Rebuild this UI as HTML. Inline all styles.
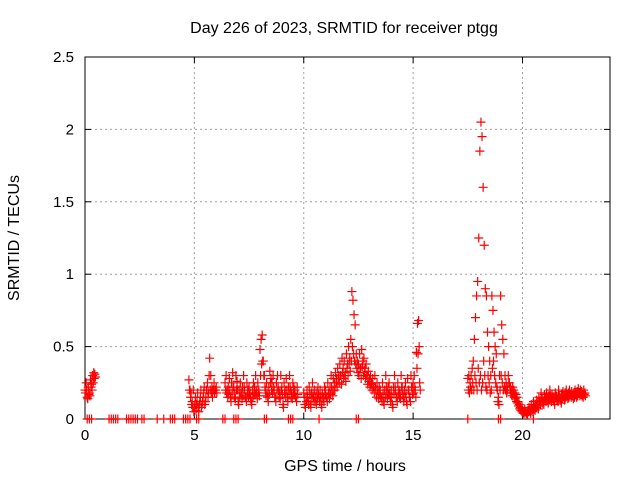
<!DOCTYPE html>
<html><head><meta charset="utf-8"><style>
body{margin:0;background:#fff}
svg{display:block;font-family:"Liberation Sans",sans-serif}
</style></head><body>
<svg id="chart" width="640" height="480"></svg>
<script>
const segStarts=[0.0,4.75,6.4,10.0,17.5,19.35];
const segStep=0.05;
const segValues=[
[0.2,0.25,0.15,0.22,0.18,0.27,0.24,0.3,0.32,0.31],
[0.27,0.2,0.18,0.12,0.2,0.08,0.15,0.1,0.18,0.05,0.12,0.2,0.1,0.15,0.22,0.12,0.2,0.25,0.18,0.42,0.3,0.22,0.2,0.25,0.2,0.22],
[0.25,0.3,0.2,0.22,0.28,0.15,0.25,0.32,0.22,0.18,0.3,0.26,0.12,0.2,0.25,0.18,0.22,0.3,0.2,0.15,0.25,0.2,0.22,0.18,0.12,0.2,0.25,0.22,0.3,0.18,0.25,0.2,0.48,0.55,0.58,0.4,0.3,0.2,0.25,0.15,0.22,0.33,0.28,0.25,0.3,0.2,0.15,0.25,0.3,0.2,0.18,0.3,0.22,0.1,0.25,0.2,0.28,0.15,0.22,0.3,0.2,0.18,0.25,0.22,0.2,0.15,0.22],
[0.18,0.1,0.15,0.2,0.12,0.22,0.1,0.18,0.25,0.15,0.2,0.12,0.18,0.22,0.15,0.2,0.1,0.18,0.15,0.22,0.2,0.15,0.25,0.18,0.22,0.3,0.2,0.28,0.25,0.32,0.28,0.35,0.3,0.38,0.3,0.42,0.35,0.4,0.32,0.45,0.38,0.5,0.42,0.55,0.88,0.82,0.72,0.65,0.45,0.4,0.38,0.45,0.35,0.48,0.4,0.42,0.35,0.38,0.3,0.33,0.28,0.3,0.25,0.28,0.22,0.3,0.2,0.25,0.18,0.22,0.2,0.15,0.25,0.12,0.2,0.3,0.18,0.22,0.25,0.15,0.2,0.1,0.22,0.3,0.2,0.15,0.25,0.2,0.18,0.3,0.22,0.15,0.2,0.25,0.12,0.28,0.2,0.15,0.3,0.22,0.25,0.3,0.2,0.46,0.66,0.68,0.25],
[0.28,0.3,0.25,0.3,0.35,0.4,0.55,0.7,0.85,0.95,1.25,1.85,2.05,1.95,1.6,1.2,0.9,0.85,0.6,0.5,0.4,0.3,0.85,0.75,0.6,0.5,0.45,0.2,0.15,0.3,0.85,0.65,0.55,0.45,0.3,0.25,0.22],
[0.3,0.25,0.22,0.2,0.22,0.2,0.18,0.17,0.15,0.12,0.1,0.08,0.07,0.06,0.05,0.07,0.05,0.04,0.06,0.08,0.05,0.1,0.07,0.12,0.08,0.1,0.13,0.09,0.15,0.12,0.18,0.14,0.12,0.17,0.15,0.18,0.13,0.16,0.2,0.14,0.17,0.15,0.12,0.18,0.16,0.14,0.2,0.15,0.13,0.17,0.19,0.15,0.18,0.2,0.16,0.18,0.2,0.17,0.19,0.16,0.18,0.2,0.17,0.19,0.21,0.18,0.2,0.19,0.17,0.2,0.18]
];
const segLowValues=[
[0.18,0.2,0.14,0.17,0.16,0.22,0.2,0.25,0.28,0.29],
[0.2,0.15,0.1,0.08,0.05,0.1,0.06,0.12,0.08,0.1,0.15,0.08,0.12,0.18,0.1,0.15,0.2,0.15,0.3,0.2,0.18,0.15,0.2,0.18,0.2,0.18],
[0.2,0.18,0.15,0.17,0.2,0.12,0.18,0.22,0.15,0.14,0.2,0.2,0.1,0.15,0.18,0.14,0.16,0.22,0.15,0.12,0.18,0.15,0.17,0.14,0.1,0.15,0.18,0.17,0.2,0.14,0.18,0.16,0.3,0.38,0.4,0.3,0.22,0.16,0.18,0.12,0.17,0.25,0.2,0.18,0.22,0.15,0.12,0.18,0.22,0.15,0.14,0.2,0.17,0.08,0.18,0.15,0.2,0.12,0.17,0.22,0.15,0.14,0.18,0.17,0.15,0.12,0.17],
[0.15,0.08,0.12,0.15,0.1,0.17,0.08,0.14,0.18,0.12,0.15,0.1,0.14,0.17,0.12,0.15,0.08,0.14,0.12,0.17,0.15,0.12,0.18,0.14,0.17,0.22,0.16,0.2,0.2,0.25,0.22,0.28,0.25,0.3,0.24,0.32,0.28,0.3,0.26,0.35,0.3,0.38,0.33,0.4,0.5,0.45,0.4,0.38,0.35,0.32,0.3,0.35,0.28,0.36,0.3,0.32,0.28,0.3,0.24,0.26,0.22,0.24,0.2,0.22,0.18,0.22,0.15,0.2,0.14,0.17,0.15,0.12,0.18,0.1,0.15,0.22,0.14,0.17,0.18,0.12,0.15,0.08,0.17,0.22,0.15,0.12,0.18,0.15,0.14,0.22,0.17,0.12,0.15,0.18,0.1,0.2,0.15,0.12,0.22,0.17,0.18,0.22,0.15,0.35,0.45,0.5,0.2],
[0.2,0.18,0.22,0.2,0.25,0.2,0.3,0.25,0.2,0.35,0.25,0.3,0.2,0.25,0.4,0.3,0.22,0.2,0.3,0.25,0.18,0.2,0.35,0.4,0.3,0.25,0.22,0.12,0.1,0.2,0.3,0.25,0.2,0.22,0.2,0.18,0.2],
[0.25,0.2,0.18,0.16,0.18,0.15,0.14,0.12,0.11,0.09,0.07,0.06,0.05,0.04,0.04,0.05,0.04,0.03,0.05,0.06,0.04,0.07,0.05,0.09,0.06,0.08,0.1,0.07,0.12,0.1,0.14,0.11,0.1,0.14,0.12,0.15,0.11,0.13,0.16,0.12,0.14,0.13,0.1,0.15,0.13,0.12,0.16,0.13,0.11,0.14,0.16,0.13,0.15,0.17,0.14,0.15,0.17,0.15,0.16,0.14,0.15,0.17,0.15,0.16,0.18,0.16,0.17,0.16,0.15,0.17,0.16]
];
const zeroTimes=[0.1,0.2,0.3,1.1,1.2,1.3,1.4,1.5,1.9,2.0,2.1,2.2,2.3,2.4,2.6,2.7,3.3,3.6,3.9,4.0,4.1,4.5,4.6,4.7,4.8,5.1,5.2,6.3,6.4,6.8,6.9,7.0,8.2,8.3,9.3,9.4,9.5,10.7,12.4,12.5,17.5,18.9,19.0,20.5];
const xTicks=[0,5,10,15,20];
const yTicks=[0,0.5,1,1.5,2,2.5];
const yTickLabels=["0","0.5","1","1.5","2","2.5"];

const L=85,R=610,T=57,B=419,XMAX=24,YMAX=2.5;
const X=v=>L+v/XMAX*(R-L), Y=v=>B-v/YMAX*(B-T);
const svg=document.getElementById('chart');const NS='http://www.w3.org/2000/svg';
function mk(tag,attrs,parent){const e=document.createElementNS(NS,tag);for(const k in attrs)e.setAttribute(k,attrs[k]);(parent||svg).appendChild(e);return e;}
const grid=mk('g',{});


xTicks.forEach(t=>{if(t>0){mk('line',{x1:X(t),x2:X(t),y1:T,y2:B,stroke:'#a0a0a0','stroke-dasharray':'2,3'},grid);}
 mk('line',{x1:X(t),x2:X(t),y1:B,y2:B-6,stroke:'#000'});mk('line',{x1:X(t),x2:X(t),y1:T,y2:T+6,stroke:'#000'});
 const tx=mk('text',{x:X(t),y:B+21,'text-anchor':'middle','font-size':15});tx.textContent=t;
 
 });
yTicks.forEach((t,i)=>{if(t>0&&t<YMAX)mk('line',{x1:L,x2:R,y1:Y(t),y2:Y(t),stroke:'#a0a0a0','stroke-dasharray':'2,3'},grid);
 mk('line',{x1:L,x2:L+6,y1:Y(t),y2:Y(t),stroke:'#000'});mk('line',{x1:R,x2:R-6,y1:Y(t),y2:Y(t),stroke:'#000'});
 const tx=mk('text',{x:L-11,y:Y(t)+5,'text-anchor':'end','font-size':15});tx.textContent=yTickLabels[i];
 
 });
const fr=mk('rect',{x:L,y:T,width:R-L,height:B-T,fill:'none',stroke:'#000','stroke-width':1});


const pts=mk('g',{stroke:'#f00','stroke-width':1.2});


function plus(x,y){mk('path',{d:`M${x-4.5},${y}h9M${x},${y-4.5}v9`},pts);}
segValues.forEach((vals,s)=>vals.forEach((v,i)=>plus(X(segStarts[s]+i*segStep),Y(v))));
segLowValues.forEach((vals,s)=>vals.forEach((v,i)=>plus(X(segStarts[s]+i*segStep+0.025),Y(v))));
zeroTimes.forEach(t=>plus(X(t),Y(0)));
const tt=mk('text',{x:344,y:33,'text-anchor':'middle','font-size':16});tt.textContent='Day 226 of 2023, SRMTID for receiver ptgg';

const xl=mk('text',{x:345,y:471,'text-anchor':'middle','font-size':16});xl.textContent='GPS time / hours';

const yl=mk('text',{x:0,y:0,'text-anchor':'middle','font-size':16,transform:'translate(19,238) rotate(-90)'});yl.textContent='SRMTID / TECUs';

</script>
</body></html>
